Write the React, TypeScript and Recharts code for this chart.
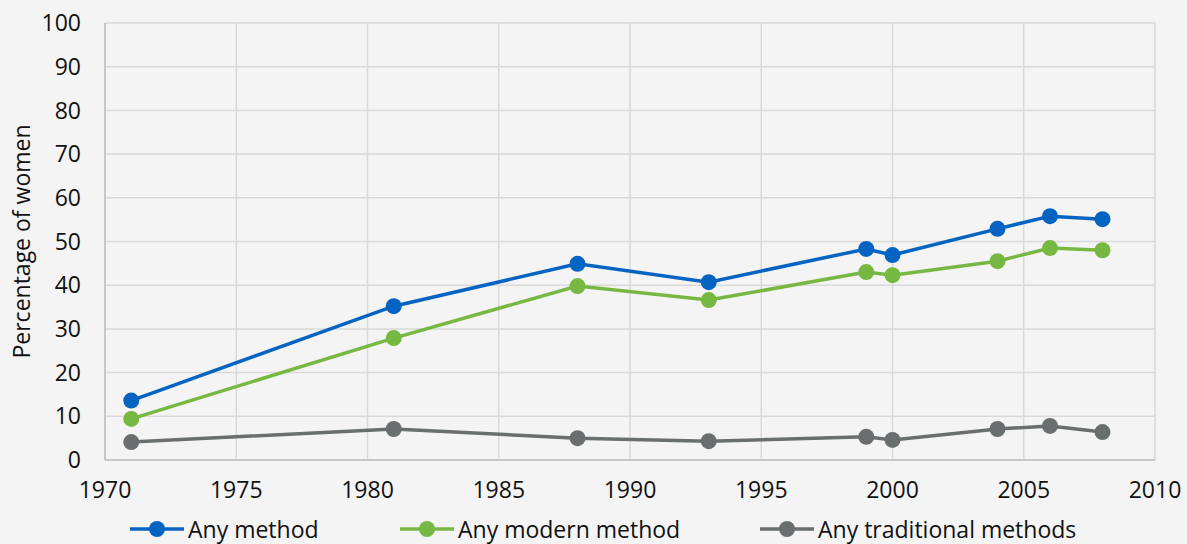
import { CartesianGrid, Legend, Line, LineChart, XAxis, YAxis } from "recharts";

const years = [1971, 1981, 1988, 1993, 1999, 2000, 2004, 2006, 2008];
const anyMethod = [13.6, 35.2, 44.9, 40.7, 48.3, 46.9, 52.9, 55.8, 55.1];
const modernMethod = [9.4, 27.9, 39.8, 36.6, 43.0, 42.3, 45.5, 48.5, 48.0];
const traditionalMethods = [4.1, 7.1, 5.0, 4.3, 5.3, 4.6, 7.1, 7.8, 6.4];

const xTicks = [1970, 1975, 1980, 1985, 1990, 1995, 2000, 2005, 2010];
const yTicks = [0, 10, 20, 30, 40, 50, 60, 70, 80, 90, 100];

const series = [
  { key: "any", name: "Any method", color: "#0563c1", values: anyMethod },
  { key: "modern", name: "Any modern method", color: "#77b843", values: modernMethod },
  { key: "traditional", name: "Any traditional methods", color: "#6b6e6e", values: traditionalMethods },
];

const data = years.map((year, i) => ({
  year,
  any: anyMethod[i],
  modern: modernMethod[i],
  traditional: traditionalMethods[i],
}));

const FONT = "'Open Sans', sans-serif";
const legendLeft = [130, 400, 760];

function ChartLegend() {
  return (
    <div style={{ position: "relative", height: 34, fontFamily: FONT, fontSize: 23, color: "#111" }}>
      {series.map((s, i) => (
        <div
          key={s.key}
          style={{ position: "absolute", left: legendLeft[i], top: 0, height: 34, display: "flex", alignItems: "center", whiteSpace: "nowrap" }}
        >
          <svg width={54} height={20} style={{ marginRight: 4 }}>
            <line x1={0} x2={54} y1={10} y2={10} stroke={s.color} strokeWidth={3.5} />
            <circle cx={27} cy={10} r={8} fill={s.color} />
          </svg>
          <span>{s.name}</span>
        </div>
      ))}
    </div>
  );
}

export default function App() {
  const tick = { fontFamily: FONT, fontSize: 23, fill: "#111" };
  return (
    <div style={{ position: "absolute", left: 0, top: 0, width: 1187, height: 544, background: "#f4f4f4" }}>
      <LineChart width={1187} height={544} data={data} margin={{ top: 23, right: 32, bottom: 0, left: 0 }}>
        <CartesianGrid stroke="#d9d9d9" strokeWidth={1.5} />
        <XAxis
          dataKey="year"
          type="number"
          domain={[1970, 2010]}
          ticks={xTicks}
          interval={0}
          height={84}
          tick={tick}
          tickLine={false}
          tickSize={0}
          tickMargin={22}
          stroke="#bfbfbf"
          strokeWidth={1.5}
        />
        <YAxis
          type="number"
          domain={[0, 100]}
          ticks={yTicks}
          interval={0}
          width={105}
          tick={tick}
          tickLine={false}
          tickSize={0}
          tickMargin={24}
          stroke="#bfbfbf"
          strokeWidth={1.5}
          label={{
            content: ({ viewBox }: any) => {
              const cy = viewBox.y + viewBox.height / 2;
              return (
                <text
                  x={21}
                  y={cy}
                  transform={`rotate(-90 21 ${cy})`}
                  textAnchor="middle"
                  dominantBaseline="central"
                  fontFamily={FONT}
                  fontSize={23}
                  fill="#111"
                >
                  Percentage of women
                </text>
              );
            },
          }}
        />
        {series.map((s) => (
          <Line
            key={s.key}
            dataKey={s.key}
            name={s.name}
            stroke={s.color}
            strokeWidth={3.5}
            dot={{ r: 8, fill: s.color, stroke: "none" }}
            activeDot={false}
            isAnimationActive={false}
          />
        ))}
        <Legend
          verticalAlign="middle"
          align="center"
          layout="horizontal"
          content={() => <ChartLegend />}
          wrapperStyle={{ top: 512, left: 0, width: 1187 }}
        />
      </LineChart>
    </div>
  );
}
